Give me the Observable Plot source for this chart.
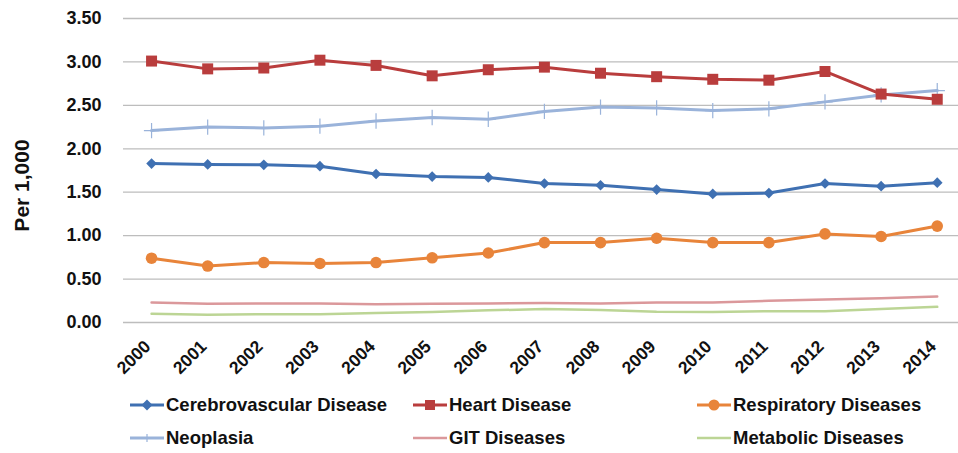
<!DOCTYPE html>
<html>
<head>
<meta charset="utf-8">
<script src="https://cdn.jsdelivr.net/npm/d3@7"></script>
<script src="https://cdn.jsdelivr.net/npm/@observablehq/plot@0.6"></script>
<style>
  html, body { margin: 0; padding: 0; background: #fff; overflow: hidden; }
  body { width: 958px; height: 453px; font-family: "Liberation Sans", Arial, sans-serif; }
  #legend { position: relative; height: 65px; font-weight: bold; font-size: 18.5px; color: #111; }
  .item { position: absolute; display: flex; align-items: center; height: 24px; }
  .item svg { margin-right: 2px; }
</style>
</head>
<body>
<div id="chart"></div>
<div id="legend"></div>
<script>
const years = [2000, 2001, 2002, 2003, 2004, 2005, 2006, 2007, 2008, 2009, 2010, 2011, 2012, 2013, 2014];
const yTicks = [0, 0.5, 1, 1.5, 2, 2.5, 3, 3.5];

const cerebrovascular = [1.83, 1.82, 1.815, 1.80, 1.71, 1.68, 1.67, 1.60, 1.58, 1.53, 1.48, 1.49, 1.60, 1.57, 1.61];
const heart           = [3.01, 2.92, 2.93, 3.02, 2.96, 2.84, 2.91, 2.94, 2.87, 2.83, 2.80, 2.79, 2.89, 2.63, 2.57];
const respiratory     = [0.74, 0.65, 0.69, 0.68, 0.69, 0.745, 0.80, 0.92, 0.92, 0.97, 0.92, 0.92, 1.02, 0.99, 1.11];
const neoplasia       = [2.21, 2.25, 2.24, 2.26, 2.32, 2.36, 2.34, 2.43, 2.48, 2.47, 2.44, 2.46, 2.54, 2.62, 2.67];
const git             = [0.23, 0.215, 0.22, 0.22, 0.21, 0.215, 0.22, 0.225, 0.22, 0.23, 0.23, 0.25, 0.265, 0.28, 0.30];
const metabolic       = [0.10, 0.09, 0.095, 0.095, 0.11, 0.12, 0.14, 0.155, 0.145, 0.125, 0.12, 0.13, 0.13, 0.155, 0.18];

const seriesNames = ["Cerebrovascular Disease", "Heart Disease", "Respiratory Diseases", "Neoplasia", "GIT Diseases", "Metabolic Diseases"];
const seriesValues = [cerebrovascular, heart, respiratory, neoplasia, git, metabolic];
const colors = ["#3F70B2", "#B93D3D", "#E8843A", "#9AB3DA", "#DB989B", "#BCD595"];
const symbols = ["diamond2", "square", "circle", "plus", null, null];
const radii = [4.8, 6.2, 5.8, 5, 0, 0];
const widths = [3, 3, 3, 3, 2.5, 2.5];

const rows = seriesNames.flatMap((s, i) => years.map((yr, j) => ({series: s, year: yr, value: seriesValues[i][j]})));

const W = 958, H = 388;
const marks = [
  Plot.ruleY(yTicks, {stroke: "#bdbdbd", strokeWidth: 1.3}),
  Plot.axisY({ticks: yTicks, tickFormat: d => d.toFixed(2), tickSize: 0, tickPadding: 22,
    fontSize: 18, fontWeight: "bold", fill: "#111", label: null}),
  Plot.text(years, {x: d => d, frameAnchor: "bottom", dy: 25, text: d => String(d), rotate: -45,
    textAnchor: "end", fontSize: 17.5, fontWeight: "bold", fill: "#111"}),
  Plot.text(["Per 1,000"], {frameAnchor: "left", textAnchor: "middle", dx: -101, dy: 15, rotate: -90, text: d => d,
    fontSize: 21, fontWeight: "bold", fill: "#111"})
];
// draw the light lines first
[5, 4, 3, 2, 0, 1].forEach(i => {
  const data = rows.filter(r => r.series === seriesNames[i]);
  marks.push(Plot.line(data, {x: "year", y: "value", stroke: colors[i], strokeWidth: widths[i]}));
  if (symbols[i]) {
    if (symbols[i] === "plus") {
      marks.push(Plot.dot(data, {x: "year", y: "value", symbol: "plus", r: radii[i], stroke: colors[i], strokeWidth: 1.2}));
    } else {
      marks.push(Plot.dot(data, {x: "year", y: "value", symbol: symbols[i], r: radii[i], fill: colors[i], stroke: "none"}));
    }
  }
});

const chart = Plot.plot({
  width: W, height: H,
  marginLeft: 123, marginRight: 0, marginTop: 18, marginBottom: H - 322,
  style: {fontFamily: "'Liberation Sans', Arial, sans-serif", background: "#fff", overflow: "hidden"},
  x: {type: "linear", domain: [1999.5, 2014.5], range: [123, 964.8], axis: null},
  y: {domain: [0, 3.5], range: [322, 18], axis: null},
  marks
});
document.getElementById("chart").appendChild(chart);

// Legend
const legendPos = [[130, 5], [413, 5], [697, 5], [130, 38], [413, 38], [697, 38]];
const legend = d3.select("#legend");
seriesNames.forEach((name, i) => {
  const item = legend.append("div").attr("class", "item")
    .style("left", legendPos[i][0] + "px").style("top", legendPos[i][1] + "px");
  const sw = item.append("svg").attr("width", 34).attr("height", 20);
  sw.append("line").attr("x1", 0).attr("x2", 34).attr("y1", 10).attr("y2", 10)
    .attr("stroke", colors[i]).attr("stroke-width", widths[i]);
  const sym = symbols[i];
  if (sym === "plus") {
    sw.append("path").attr("d", "M17,6V14M13,10H21").attr("stroke", colors[i]).attr("stroke-width", 1.2);
  } else if (sym === "diamond2") {
    sw.append("path").attr("d", "M17,4.5L22.5,10L17,15.5L11.5,10Z").attr("fill", colors[i]);
  } else if (sym === "square") {
    sw.append("rect").attr("x", 12).attr("y", 5).attr("width", 10).attr("height", 10).attr("fill", colors[i]);
  } else if (sym === "circle") {
    sw.append("circle").attr("cx", 17).attr("cy", 10).attr("r", 5.5).attr("fill", colors[i]);
  }
  item.append("span").text(name);
});
</script>
</body>
</html>
